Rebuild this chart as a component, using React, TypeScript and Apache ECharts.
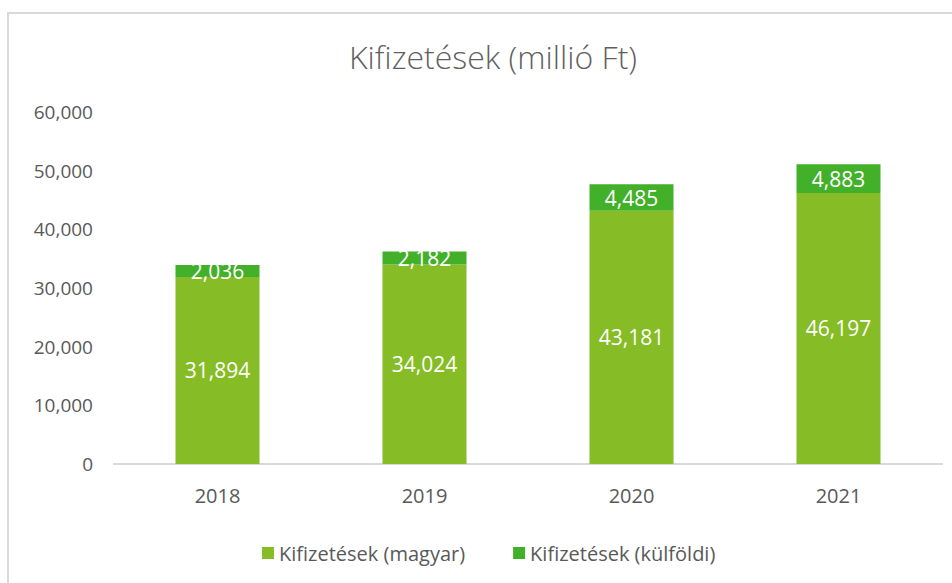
import React, { useEffect, useRef } from "react";
import * as echarts from "echarts";

const categories = ["2018", "2019", "2020", "2021"];
const magyar = [31894, 34024, 43181, 46197];
const kulfoldi = [2036, 2182, 4485, 4883];
const seriesNames = ["Kifizetések (magyar)", "Kifizetések (külföldi)"];
const titleText = "Kifizetések (millió Ft)";

const FONT = "'Open Sans', 'Noto Sans', sans-serif";
const fmt = (v: number) => v.toLocaleString("en-US");

export default function App() {
  const ref = useRef<HTMLDivElement>(null);
  useEffect(() => {
    if (!ref.current) return;
    const chart = echarts.init(ref.current, undefined, { renderer: "svg" });
    chart.setOption({
      animation: false,
      backgroundColor: "#ffffff",
      textStyle: { fontFamily: FONT },
      title: {
        text: titleText,
        left: 488,
        top: 35,
        textAlign: "center",
        textStyle: { fontSize: 32, fontWeight: 300, color: "#5f5f5f", fontFamily: FONT },
      },
      legend: {
        left: 257,
        top: 538,
        itemWidth: 12,
        itemHeight: 12,
        itemGap: 48,
        icon: "rect",
        textStyle: { fontSize: 20, color: "#595959", fontFamily: FONT },
        data: seriesNames,
      },
      grid: { left: 114, right: 10, top: 112, bottom: 119, containLabel: false },
      xAxis: {
        type: "category",
        data: categories,
        axisLine: { lineStyle: { color: "#d9d9d9", width: 2 } },
        axisTick: { show: false },
        axisLabel: { fontSize: 20, color: "#595959", margin: 21, fontFamily: FONT },
      },
      yAxis: {
        type: "value",
        min: 0,
        max: 60000,
        interval: 10000,
        axisLine: { show: false },
        axisTick: { show: false },
        splitLine: { show: false },
        axisLabel: {
          fontSize: 19,
          color: "#595959",
          margin: 21,
          fontFamily: FONT,
          formatter: (v: number) => fmt(v),
        },
      },
      series: [
        {
          name: seriesNames[0],
          type: "bar",
          stack: "total",
          data: magyar,
          barWidth: 84,
          itemStyle: { color: "#86BC25" },
          label: {
            show: true,
            position: "inside",
            color: "#ffffff",
            fontSize: 21,
            fontFamily: FONT,
            formatter: (p: any) => fmt(p.value),
          },
        },
        {
          name: seriesNames[1],
          type: "bar",
          stack: "total",
          data: kulfoldi,
          barWidth: 84,
          itemStyle: { color: "#43B02A" },
          label: {
            show: true,
            position: "inside",
            color: "#ffffff",
            fontSize: 21,
            fontFamily: FONT,
            formatter: (p: any) => fmt(p.value),
          },
        },
      ],
    });
    return () => chart.dispose();
  }, []);
  return (
    <div style={{ position: "fixed", left: 0, top: 0, width: 952, height: 583, background: "#fff" }}>
      <div ref={ref} style={{ position: "absolute", left: 0, top: 0, width: 952, height: 583 }} />
      <div
        style={{
          position: "absolute",
          left: 7,
          top: 12,
          width: 960,
          height: 600,
          border: "2px solid #d9d9d9",
          pointerEvents: "none",
        }}
      />
    </div>
  );
}
